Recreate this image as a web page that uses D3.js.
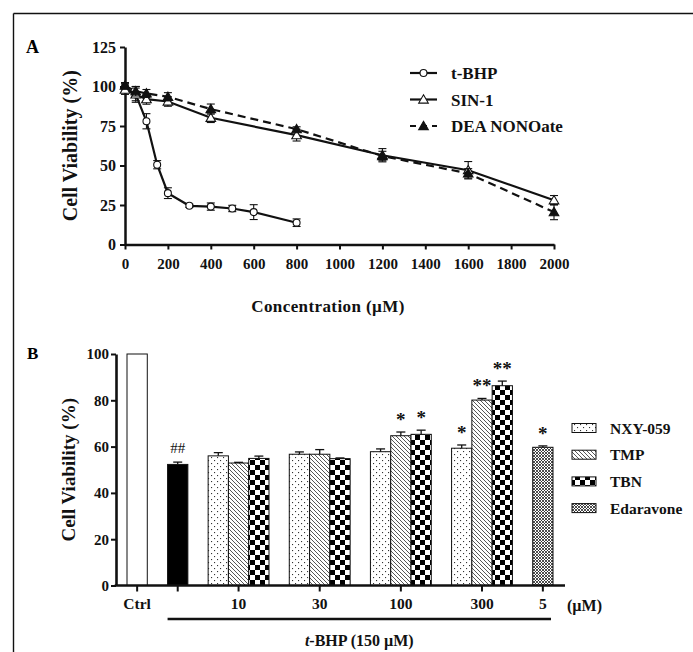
<!DOCTYPE html>
<html>
<head>
<meta charset="utf-8">
<script src="https://cdn.jsdelivr.net/npm/d3@7"></script>
<style>
  html, body { margin: 0; padding: 0; background: #fff; }
  svg { display: block; }
  svg text { font-family: "Liberation Serif", "Times New Roman", serif !important; font-weight: bold; }
</style>
</head>
<body>
<svg id="chart" width="693" height="652"></svg>
<script>
// ---------- Panel A data ----------
const concTBHP = [0, 50, 100, 150, 200, 300, 400, 500, 600, 800];
const tbhpMean = [99.5, 95, 78, 50.5, 32.5, 24.5, 24, 22.8, 20.5, 13.8];
const tbhpErr  = [2.5, 4, 4.8, 2.6, 3.4, 1, 2.3, 2, 4.7, 2.4];

const concNO   = [0, 50, 100, 200, 400, 800, 1200, 1600, 2000];
const sin1Mean = [98, 95, 92, 90.5, 80.2, 69.2, 56.5, 47, 28];
const sin1Err  = [3, 5, 3.2, 3, 3, 3.7, 4.2, 5.5, 3];
const deaMean  = [100.5, 97, 95.6, 93.5, 85.7, 73, 56, 45, 20.5];
const deaErr   = [2, 3, 2.5, 2.6, 3.2, 1.5, 3, 3, 4.8];

const seriesNamesA = ["t-BHP", "SIN-1", "DEA NONOate"];
const xTicksA = [0, 200, 400, 600, 800, 1000, 1200, 1400, 1600, 1800, 2000];
const yTicksA = [0, 25, 50, 75, 100, 125];

// ---------- Panel B data ----------
const ctrlValue = 100, ctrlErr = 0;
const tbhpOnlyValue = 52.3, tbhpOnlyErr = 1;
const doseGroups = ["10", "30", "100", "300"];
const nxyMean = [56, 56.7, 57.8, 59.3];
const nxyErr  = [1.4, 1, 1.2, 1.4];
const tmpMean = [52.9, 56.7, 64.7, 80.1];
const tmpErr  = [0.3, 2, 1.6, 0.7];
const tbnMean = [54.9, 54.8, 65.3, 86.3];
const tbnErr  = [1, 0.3, 1.8, 2];
const nxySig  = ["", "", "", "*"];
const tmpSig  = ["", "", "*", "**"];
const tbnSig  = ["", "", "*", "**"];
const edaDose = "5", edaMean = 59.7, edaErr = 0.6, edaSig = "*";
const tbhpOnlySig = "##";
const drugNames = ["NXY-059", "TMP", "TBN", "Edaravone"];
const yTicksB = [0, 20, 40, 60, 80, 100];

const svg = d3.select("#chart");
const ink = "#111";

// ---------- frame ----------
svg.append("line").attr("x1", 13.5).attr("x2", 693).attr("y1", 13.5).attr("y2", 13.5)
  .attr("stroke", ink).attr("stroke-width", 1.4);
svg.append("line").attr("x1", 13.5).attr("x2", 13.5).attr("y1", 13.5).attr("y2", 652)
  .attr("stroke", ink).attr("stroke-width", 1.4);

// ---------- patterns ----------
const defs = svg.append("defs");
const pDots = defs.append("pattern").attr("id", "pDots").attr("patternUnits", "userSpaceOnUse")
  .attr("width", 6).attr("height", 6);
pDots.append("rect").attr("width", 6).attr("height", 6).attr("fill", "#fff");
pDots.append("rect").attr("x", 1).attr("y", 1).attr("width", 1.1).attr("height", 1.1).attr("fill", "#333");
pDots.append("rect").attr("x", 4).attr("y", 4).attr("width", 1.1).attr("height", 1.1).attr("fill", "#333");

const pDiag = defs.append("pattern").attr("id", "pDiag").attr("patternUnits", "userSpaceOnUse")
  .attr("width", 4).attr("height", 4);
pDiag.append("rect").attr("width", 4).attr("height", 4).attr("fill", "#fff");
pDiag.append("path").attr("d", "M-1,-1 L5,5 M-1,3 L1,5 M3,-1 L5,1")
  .attr("stroke", "#444").attr("stroke-width", 0.9);

const pCheck = defs.append("pattern").attr("id", "pCheck").attr("patternUnits", "userSpaceOnUse")
  .attr("width", 10).attr("height", 10);
pCheck.append("rect").attr("width", 10).attr("height", 10).attr("fill", "#fff");
pCheck.append("rect").attr("width", 5).attr("height", 5).attr("fill", "#000");
pCheck.append("rect").attr("x", 5).attr("y", 5).attr("width", 5).attr("height", 5).attr("fill", "#000");

const pFine = defs.append("pattern").attr("id", "pFine").attr("patternUnits", "userSpaceOnUse")
  .attr("width", 3).attr("height", 3);
pFine.append("rect").attr("width", 3).attr("height", 3).attr("fill", "#fff");
pFine.append("path").attr("d", "M0,0 L3,3 M3,0 L0,3").attr("stroke", "#222").attr("stroke-width", 0.8);

const drugFill = { "NXY-059": "url(#pDots)", "TMP": "url(#pDiag)", "TBN": "url(#pCheck)", "Edaravone": "url(#pFine)" };

// ================= Panel A =================
const xA = d3.scaleLinear().domain([0, 2000]).range([125, 554]);
const yA = d3.scaleLinear().domain([0, 125]).range([244.5, 47]);

svg.append("text").attr("x", 26).attr("y", 53).attr("font-size", 18).text("A");

const gyA = svg.append("g").attr("transform", `translate(${xA(0)},0)`)
  .call(d3.axisLeft(yA).tickValues(yTicksA).tickFormat(d3.format("d")).tickSize(5).tickSizeOuter(0).tickPadding(4));
const gxA = svg.append("g").attr("transform", `translate(0,${yA(0)})`)
  .call(d3.axisBottom(xA).tickValues(xTicksA).tickFormat(d3.format("d")).tickSize(5).tickSizeOuter(0).tickPadding(9));
[gyA, gxA].forEach(g => {
  g.attr("font-family", null);
  g.select(".domain").attr("stroke", ink).attr("stroke-width", 2.5);
  g.selectAll(".tick line").attr("stroke", ink).attr("stroke-width", 2);
  g.selectAll(".tick text").attr("fill", ink);
});
gyA.selectAll(".tick text").style("font-size", "16px");
gxA.selectAll(".tick text").style("font-size", "15px");

svg.append("text").attr("transform", `translate(77,${(yA(0) + yA(125)) / 2}) rotate(-90)`)
  .attr("text-anchor", "middle").attr("font-size", 20).attr("fill", ink).text("Cell Viability (%)");
svg.append("text").attr("x", 328).attr("y", 312).attr("text-anchor", "middle")
  .attr("font-size", 17).attr("letter-spacing", 0.4).attr("fill", ink).text("Concentration (\u00B5M)");

const seriesA = [
  { name: seriesNamesA[0], x: concTBHP, m: tbhpMean, e: tbhpErr, dash: null, marker: "circle" },
  { name: seriesNamesA[1], x: concNO, m: sin1Mean, e: sin1Err, dash: null, marker: "tri" },
  { name: seriesNamesA[2], x: concNO, m: deaMean, e: deaErr, dash: "8,5", marker: "tri-fill" }
];
const lineA = d3.line().x(d => xA(d.x)).y(d => yA(d.m));
const triPath = d3.symbol().type(d3.symbolTriangle).size(40);
const circPath = d3.symbol().type(d3.symbolCircle).size(38);

function drawMarker(g, type, cx, cy) {
  if (type === "circle") {
    g.append("path").attr("d", circPath()).attr("transform", `translate(${cx},${cy})`)
      .attr("fill", "#fff").attr("stroke", ink).attr("stroke-width", 1.1);
  } else {
    g.append("path").attr("d", triPath()).attr("transform", `translate(${cx},${cy + 0.8})`)
      .attr("fill", type === "tri-fill" ? ink : "#fff").attr("stroke", ink).attr("stroke-width", 1.1);
  }
}

seriesA.forEach(s => {
  const pts = s.x.map((x, i) => ({ x, m: s.m[i], e: s.e[i] }));
  const g = svg.append("g");
  pts.forEach(p => {
    const cx = xA(p.x), y1 = yA(p.m + p.e), y2 = yA(p.m - p.e);
    g.append("line").attr("x1", cx).attr("x2", cx).attr("y1", y1).attr("y2", y2).attr("stroke", ink).attr("stroke-width", 1.1);
    [y1, y2].forEach(yy => g.append("line").attr("x1", cx - 4).attr("x2", cx + 4).attr("y1", yy).attr("y2", yy)
      .attr("stroke", ink).attr("stroke-width", 1.1));
  });
  g.append("path").datum(pts).attr("d", lineA).attr("fill", "none").attr("stroke", ink)
    .attr("stroke-width", 2.2).attr("stroke-dasharray", s.dash);
  pts.forEach(p => drawMarker(g, s.marker, xA(p.x), yA(p.m)));
});

// legend A
const legA = svg.append("g");
seriesA.forEach((s, i) => {
  const yy = 73 + i * 26.5;
  legA.append("line").attr("x1", 410).attr("x2", 437).attr("y1", yy).attr("y2", yy)
    .attr("stroke", ink).attr("stroke-width", 2.2).attr("stroke-dasharray", s.dash ? "6,5" : null);
  drawMarker(legA, s.marker, 423.5, yy);
  legA.append("text").attr("x", 451).attr("y", yy + 6).attr("font-size", 17).attr("fill", ink).text(s.name);
});

// ================= Panel B =================
const bars = [];
let slot = 0;
bars.push({ label: "Ctrl", value: ctrlValue, err: ctrlErr, fill: "#fff", sig: "", slot: slot++ });
slot++;
bars.push({ label: "tBHP", value: tbhpOnlyValue, err: tbhpOnlyErr, fill: "#000", sig: tbhpOnlySig, slot: slot++ });
slot++;
const tickCats = [{ label: "Ctrl", slots: [0] }, { label: "", slots: [2] }];
doseGroups.forEach((dose, gi) => {
  const s0 = slot;
  bars.push({ label: "NXY-059", value: nxyMean[gi], err: nxyErr[gi], fill: drugFill["NXY-059"], sig: nxySig[gi], slot: slot++ });
  bars.push({ label: "TMP", value: tmpMean[gi], err: tmpErr[gi], fill: drugFill["TMP"], sig: tmpSig[gi], slot: slot++ });
  bars.push({ label: "TBN", value: tbnMean[gi], err: tbnErr[gi], fill: drugFill["TBN"], sig: tbnSig[gi], slot: slot++ });
  tickCats.push({ label: dose, slots: [s0, s0 + 1, s0 + 2] });
  slot++;
});
bars.push({ label: "Edaravone", value: edaMean, err: edaErr, fill: drugFill["Edaravone"], sig: edaSig, slot: slot });
tickCats.push({ label: edaDose, slots: [slot] });
const nSlots = slot + 1;

const xB = d3.scaleBand().domain(d3.range(nSlots)).range([127, 553]).paddingInner(0).paddingOuter(0);
const yB = d3.scaleLinear().domain([0, 100]).range([585.5, 354]);
const axisLeftX = 116, axisRightX = 565;

svg.append("text").attr("x", 27).attr("y", 359).attr("font-size", 17).text("B");

const gB = svg.append("g");
gB.selectAll("rect.bar").data(bars).join("rect").attr("class", "bar")
  .attr("x", d => xB(d.slot)).attr("width", xB.bandwidth())
  .attr("y", d => yB(d.value)).attr("height", d => yB(0) - yB(d.value))
  .attr("fill", d => d.fill).attr("stroke", ink).attr("stroke-width", 1);

bars.filter(d => d.err > 0).forEach(d => {
  const cx = xB(d.slot) + xB.bandwidth() / 2;
  gB.append("line").attr("x1", cx).attr("x2", cx).attr("y1", yB(d.value)).attr("y2", yB(d.value + d.err))
    .attr("stroke", ink).attr("stroke-width", 1.3);
  gB.append("line").attr("x1", cx - 4.5).attr("x2", cx + 4.5).attr("y1", yB(d.value + d.err)).attr("y2", yB(d.value + d.err))
    .attr("stroke", ink).attr("stroke-width", 1.3);
});
bars.filter(d => d.sig).forEach(d => {
  const cx = xB(d.slot) + xB.bandwidth() / 2;
  const isHash = d.sig.includes("#");
  gB.append("text").attr("x", cx).attr("y", yB(d.value + d.err) - (isHash ? 9 : 6))
    .attr("text-anchor", "middle").attr("font-size", isHash ? 15 : 19)
    .style("font-weight", isHash ? "normal" : "bold").attr("fill", ink).text(d.sig);
});

const gyB = svg.append("g").attr("transform", `translate(${axisLeftX},0)`)
  .call(d3.axisLeft(yB).tickValues(yTicksB).tickSize(5).tickSizeOuter(0).tickPadding(2));
gyB.attr("font-family", null);
gyB.select(".domain").attr("stroke", ink).attr("stroke-width", 2.6);
gyB.selectAll(".tick line").attr("stroke", ink).attr("stroke-width", 2);
gyB.selectAll(".tick text").attr("fill", ink).style("font-size", "15px");

svg.append("line").attr("x1", axisLeftX - 1.3).attr("x2", axisRightX).attr("y1", yB(0)).attr("y2", yB(0))
  .attr("stroke", ink).attr("stroke-width", 2.6);
tickCats.forEach(c => {
  const first = xB(c.slots[0]), last = xB(c.slots[c.slots.length - 1]) + xB.bandwidth();
  const cx = (first + last) / 2;
  svg.append("line").attr("x1", cx).attr("x2", cx).attr("y1", yB(0)).attr("y2", yB(0) + 6)
    .attr("stroke", ink).attr("stroke-width", 2);
  if (c.label) svg.append("text").attr("x", cx).attr("y", 608.5).attr("text-anchor", "middle")
    .attr("font-size", 15.5).attr("fill", ink).text(c.label);
});
svg.append("text").attr("x", 567).attr("y", 611).attr("font-size", 16).attr("fill", ink).text("(\u00B5M)");

const brX1 = xB(bars[1].slot), brX2 = xB(nSlots - 1) + xB.bandwidth() - 2;
svg.append("line").attr("x1", brX1).attr("x2", brX2).attr("y1", 619).attr("y2", 619)
  .attr("stroke", ink).attr("stroke-width", 2.5);
const tb = svg.append("text").attr("x", (brX1 + brX2) / 2).attr("y", 645.5).attr("text-anchor", "middle")
  .attr("font-size", 16).attr("fill", ink);
tb.append("tspan").attr("font-style", "italic").text("t");
tb.append("tspan").text("-BHP (150 \u00B5M)");

svg.append("text").attr("transform", `translate(75,${(yB(0) + yB(100)) / 2}) rotate(-90)`)
  .attr("text-anchor", "middle").attr("font-size", 19).attr("fill", ink).text("Cell Viability (%)");

const legB = svg.append("g");
drugNames.forEach((n, i) => {
  const yy = 428 + i * 26.7;
  legB.append("rect").attr("x", 572).attr("y", yy - 4.5).attr("width", 24).attr("height", 9)
    .attr("fill", drugFill[n]).attr("stroke", ink).attr("stroke-width", 1);
  legB.append("text").attr("x", 610).attr("y", yy + 5.5).attr("font-size", 15.5).attr("fill", ink).text(n);
});
</script>
</body>
</html>
